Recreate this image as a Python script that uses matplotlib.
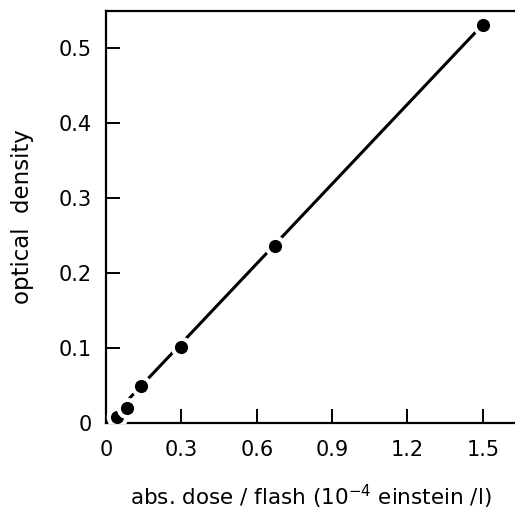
import numpy as np
import matplotlib.pyplot as plt

# Data
dose = [0.044, 0.084, 0.14, 0.298, 0.672, 1.5]
od = [0.008, 0.020, 0.049, 0.101, 0.236, 0.531]

# fitted straight line
fit_x = [0.0, 1.5]
fit_y = [0.0, 0.531]

x_ticks = [0, 0.3, 0.6, 0.9, 1.2, 1.5]
x_labels = ["0", "0.3", "0.6", "0.9", "1.2", "1.5"]
y_ticks = [0, 0.1, 0.2, 0.3, 0.4, 0.5]
y_labels = ["0", "0.1", "0.2", "0.3", "0.4", "0.5"]

plt.rcParams['font.family'] = ['DejaVu Sans']

fig = plt.figure(figsize=(5.15, 5.14), dpi=100)
ax = fig.add_axes([0.206, 0.177, 0.794, 0.8016])

ax.plot(fit_x, fit_y, color="black", lw=2.2, zorder=2)
ax.plot(dose, od, "o", color="black", ms=12.5, mec="white", mew=3, zorder=3)

ax.set_xlim(0, 1.628)
ax.set_ylim(0, 0.549)
ax.set_xticks(x_ticks)
ax.set_xticklabels(x_labels)
ax.set_yticks(y_ticks)
ax.set_yticklabels(y_labels)
ax.tick_params(direction="in", length=10, width=1.4, labelsize=15)
ax.tick_params(axis="x", pad=12)
ax.tick_params(axis="y", pad=10)

ax.spines["right"].set_visible(False)
for s in ["left", "bottom", "top"]:
    ax.spines[s].set_linewidth(1.6)

ax.set_xlabel("abs. dose / flash (10$^{-4}$ einstein /l)", fontsize=15.5, labelpad=17)
ax.set_ylabel("optical  density", fontsize=16.5, labelpad=18)

fig.savefig("out.png", dpi=100)
